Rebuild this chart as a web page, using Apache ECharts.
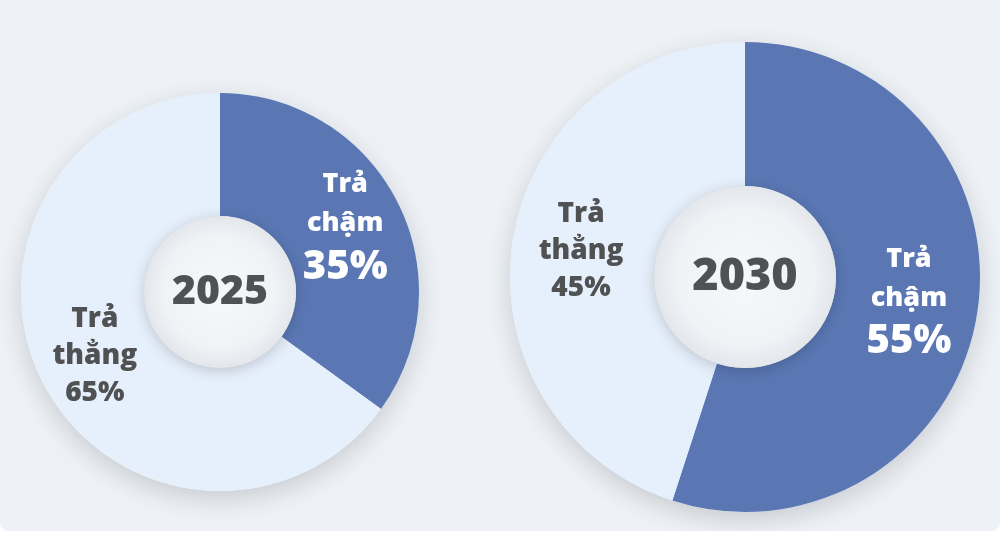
<!DOCTYPE html>
<html>
<head>
<meta charset="utf-8">
<script src="https://cdn.jsdelivr.net/npm/echarts@6/dist/echarts.min.js"></script>
<style>
html,body{margin:0;padding:0;background:#ffffff;}
#wrap{position:absolute;left:0;top:0;width:1000px;height:531px;background:#eef2f7;border-radius:0 0 8px 8px;overflow:hidden;}
#chart{width:1000px;height:531px;}
</style>
</head>
<body>
<div id="wrap"><div id="chart"></div></div>
<script>
const years = ['2025', '2030'];
const categories = ['Trả chậm', 'Trả thẳng'];
const share2025 = [35, 65];
const share2030 = [55, 45];

const blue = '#5a77b4';
const light = '#e6f0fc';
const dark = '#505153';

const font = '"Open Sans", "Noto Sans", sans-serif';

function makeData(values) {
  return categories.map((c, i) => ({ name: c, value: values[i] }));
}

const rich = {
  w: { fontFamily: font, fontWeight: 800, fontSize: 27, lineHeight: 39, color: '#fff' },
  p: { fontFamily: font, fontWeight: 800, fontSize: 40, lineHeight: 48, color: '#fff' },
  dw: { fontFamily: font, fontWeight: 800, fontSize: 28, lineHeight: 37, color: dark },
  dp: { fontFamily: font, fontWeight: 800, fontSize: 28, lineHeight: 37, color: dark }
};

function labelFmt(p) {
  const words = p.name.split(' ');
  if (p.dataIndex === 0) {
    return words.map(w => '{w|' + w + '}').join('\n') + '\n{p|' + p.value + '%}';
  }
  return words.map(w => '{dw|' + w + '}').join('\n') + '\n{dp|' + p.value + '%}';
}

function donut(center, r0, r1, values, year, fsYear) {
  return [
    { // shadow backdrop
      type: 'pie', silent: true, center: center, radius: [r0, r1], z: 1,
      label: { show: false }, labelLine: { show: false },
      itemStyle: { color: light, shadowBlur: 26, shadowColor: 'rgba(0,0,0,0.16)', shadowOffsetY: 8 },
      data: [{ value: 1, name: '' }]
    },
    {
      type: 'pie', center: center, radius: [r0, r1], z: 2,
      startAngle: 90, clockwise: true, avoidLabelOverlap: false,
      label: { show: true, position: 'inside', formatter: labelFmt, rich: rich },
      labelLine: { show: false },
      emphasis: { disabled: true },
      itemStyle: { borderWidth: 0 },
      color: [blue, light],
      data: makeData(values)
    },
    { // inner disc with year
      type: 'pie', silent: true, center: center, radius: [0, r0], z: 3,
      label: { show: true, position: 'center', formatter: year,
        fontFamily: font, fontWeight: 800, fontSize: fsYear, color: dark },
      labelLine: { show: false },
      itemStyle: {
        color: { type: 'radial', x: 0.5, y: 0.5, r: 0.5,
          colorStops: [{ offset: 0, color: '#f6f8fb' }, { offset: 0.75, color: '#f0f2f6' }, { offset: 1, color: '#e3e6eb' }] },
        shadowBlur: 14, shadowColor: 'rgba(0,0,0,0.18)', shadowOffsetY: 3
      },
      data: [{ value: 1, name: year }]
    }
  ];
}

const chart = echarts.init(document.getElementById('chart'));
chart.setOption({
  backgroundColor: 'transparent',
  animation: false,
  series: [
    ...donut([220, 292], 76, 199, share2025, years[0], 41),
    ...donut([745, 277], 91, 235, share2030, years[1], 45)
  ]
});
</script>
</body>
</html>
